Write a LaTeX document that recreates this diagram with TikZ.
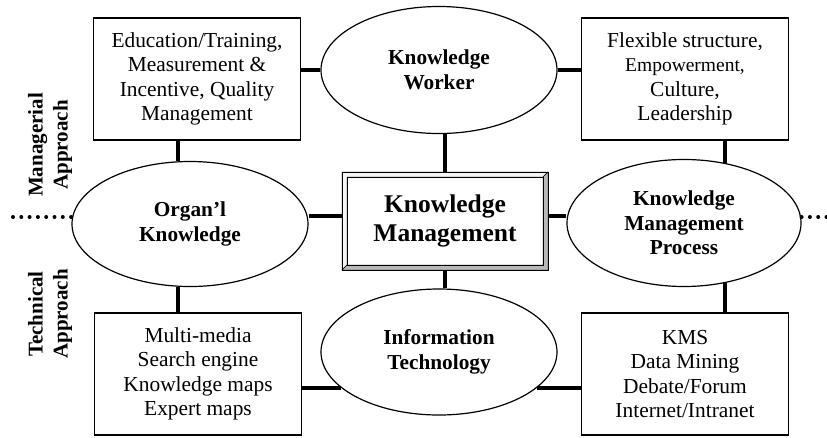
\documentclass[tikz,border=0pt]{standalone}
\usepackage{fontspec}
\setmainfont{Liberation Serif}
\usetikzlibrary{shapes.geometric}
\begin{document}
\begin{tikzpicture}[x=1pt,y=-1pt,
  box/.style={draw,line width=1.2pt,align=center,minimum width=207pt,minimum height=122pt,
    font=\fontsize{21.4}{24.4}\selectfont},
  oval/.style={draw,ellipse,line width=1.2pt,align=center,minimum width=236pt,minimum height=126pt,
    font=\fontsize{21.3}{24.5}\selectfont\bfseries},
  core/.style={draw,line width=1pt,fill=white,outer sep=0pt,
    minimum width=206pt,minimum height=98pt,align=center,font=\fontsize{25.5}{29}\selectfont\bfseries},
  bevel/.style={draw,line width=0.4pt},
  side/.style={rotate=90,align=center,font=\fontsize{21}{25}\selectfont\bfseries},
  link/.style={line width=4pt},
  dots/.style={line width=4pt,line cap=round,dash pattern=on 0pt off 8.3pt}]
\useasboundingbox (0,0) rectangle (827,437);

\node[box] (TL) at (197,79) {Education/Training,\\Measurement \&\\Incentive, Quality\\Management};
\node[box] (TR) at (685,79) {Flexible structure,\\{\fontsize{19.5}{24.4}\selectfont Empowerment,}\\Culture,\\Leadership};
\node[box] (BL) at (198,374) {Multi-media\\Search engine\\Knowledge maps\\Expert maps};
\node[box] (BR) at (685,374) {KMS\\Data Mining\\Debate/Forum\\Internet/Intranet};

\node[oval,minimum height=127pt] (KW) at (439,70) {Knowledge\\Worker};
\node[oval] (IT) at (439,352) {Information\\Technology};
\node[oval,minimum height=125pt] (Org) at (190,224) {Organ’l\\Knowledge};
\node[oval,minimum width=234pt,minimum height=127pt] (KMP) at (684,223) {Knowledge\\Management\\Process};
\node[core] (KM) at (445,221) {Knowledge\\Management};

% bevelled frame of the centre box
\fill[bevel,fill=gray!8] (KM.south west) -- (KM.north west) -- (KM.north east)
  -- ([shift={(-5pt,-5pt)}]KM.north east) -- ([shift={(5pt,-5pt)}]KM.north west)
  -- ([shift={(5pt,5pt)}]KM.south west) -- cycle;
\fill[bevel,fill=gray!55] (KM.south west) -- (KM.south east) -- (KM.north east)
  -- ([shift={(-5pt,-5pt)}]KM.north east) -- ([shift={(-5pt,5pt)}]KM.south east)
  -- ([shift={(5pt,5pt)}]KM.south west) -- cycle;
\draw[line width=1pt] (KM.north west) rectangle (KM.south east);
\draw[line width=1pt] ([shift={(5pt,-5pt)}]KM.north west) rectangle ([shift={(-5pt,5pt)}]KM.south east);

\node[side] (Mgr) at (50,145) {Managerial\\Approach};
\node[side] (Tech) at (50,314) {Technical\\Approach};

\coordinate (LEnd) at (13,217);
\coordinate (REnd) at (827,217);

\draw[link] (TL.east |- KW.west) -- (KW.west);
\draw[link] (KW.east) -- (KW.east -| TR.west);
\draw[link] (Org.101) -- (Org.101 |- TL.south);
\draw[link] (Org.259) -- (Org.259 |- BL.north);
\draw[link] (KM.north) -- (KM.north |- KW.south);
\draw[link] (KM.south) -- (KM.south |- IT.north);
\draw[link] ([yshift=8pt]Org.east) -- ([yshift=8pt]Org.east -| KM.west);
\draw[link] ([yshift=7pt]KMP.west) -- ([yshift=7pt]KMP.west -| KM.east);
\draw[link] (KMP.56) -- (KMP.56 |- TR.south);
\draw[link] (KMP.-56) -- (KMP.-56 |- BR.north);
\draw[link] (IT.200) -- (IT.200 -| BL.east);
\draw[link] (IT.-20) -- (IT.-20 -| BR.west);

\draw[dots] (LEnd) -- (LEnd -| Org.west);
\draw[dots] (KMP.east |- REnd) -- (REnd);
\end{tikzpicture}
\end{document}
